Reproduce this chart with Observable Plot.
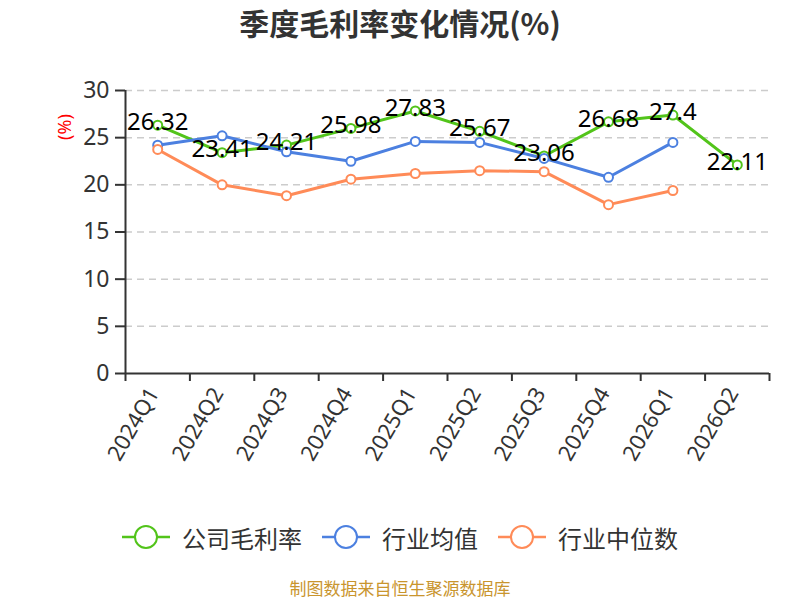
<!DOCTYPE html>
<html><head><meta charset="utf-8">
<script src="https://cdn.jsdelivr.net/npm/d3@7"></script>
<script src="https://cdn.jsdelivr.net/npm/@observablehq/plot@0.6"></script>
<style>
html,body{margin:0;background:#fff;font-family:"Noto Sans","Noto Sans CJK SC",sans-serif;}
#wrap{position:relative;width:800px;height:600px;}
#title{height:44px;line-height:44px;text-align:center;font-size:30px;font-weight:bold;color:#333;font-family:"Noto Sans CJK SC","Noto Sans",sans-serif;margin-bottom:1px;}
#ylab{position:absolute;left:50px;top:113px;width:28px;height:28px;color:#f00;font-size:18px;transform:rotate(-90deg);text-align:center;line-height:28px;}
#legend{position:absolute;top:522px;left:0;width:800px;display:flex;justify-content:center;gap:20px;font-size:24px;color:#333;font-family:"Noto Sans CJK SC",sans-serif;}
.item{display:flex;align-items:center;gap:12px;height:30px;}
#caption{position:absolute;top:576px;left:0;width:800px;height:24px;line-height:24px;text-align:center;font-size:17px;color:#c9952e;font-family:"Noto Sans CJK SC",sans-serif;}
</style></head>
<body>
<div id="wrap">
<div id="title">季度毛利率变化情况(%)</div>
<div id="chart"></div>
<div id="ylab">(%)</div>
<div id="legend"></div>
<div id="caption">制图数据来自恒生聚源数据库</div>
</div>
<script>
const quarters = ["2024Q1","2024Q2","2024Q3","2024Q4","2025Q1","2025Q2","2025Q3","2025Q4","2026Q1","2026Q2"];
const company = [26.32,23.41,24.21,25.98,27.83,25.67,23.06,26.68,27.4,22.11];
const industryAvg = [24.2,25.2,23.5,22.5,24.6,24.5,22.8,20.8,24.5,null];
const industryMedian = [23.75,20.0,18.85,20.6,21.2,21.5,21.4,17.9,19.4,null];
const yTicks = [0,5,10,15,20,25,30];
const seriesNames = ["公司毛利率","行业均值","行业中位数"];
const seriesColors = ["#52c41a","#4c80e0","#ff8b58"];

const seriesValues = [company, industryAvg, industryMedian];
const rows = [];
seriesValues.forEach((vals, s) => vals.forEach((v, i) => {
  if (v != null) rows.push({series: seriesNames[s], i, q: quarters[i], v});
}));
const companyRows = rows.filter(d => d.series === seriesNames[0]);
const idx = quarters.map((q, i) => i);
const bounds = [-0.5, ...idx.map(i => i + 0.5)];

const chart = Plot.plot({
  width: 800,
  height: 470,
  marginTop: 45,
  marginBottom: 142,
  marginLeft: 125,
  marginRight: 31,
  style: {fontFamily: '"Noto Sans", sans-serif', color: "#333", background: "#fff", fontSize: "22px"},
  x: {domain: [-0.5, quarters.length - 0.5], axis: null},
  y: {domain: [0, 30], axis: null},
  color: {domain: seriesNames, range: seriesColors},
  marks: [
    Plot.gridY(yTicks.filter(t => t > 0), {stroke: "#ccc", strokeOpacity: 1, strokeDasharray: "7,5", strokeWidth: 1.5}),
    Plot.axisY({ticks: yTicks, tickSize: 10, tickPadding: 6, fontSize: 23, tickFormat: d => d, label: null, stroke: "#333", strokeWidth: 2}),
    Plot.axisX({ticks: idx, tickSize: 0, tickPadding: 16, tickRotate: -60, fontSize: 22, tickFormat: i => quarters[i], label: null, dx: -4}),
    Plot.axisX({ticks: bounds, tickSize: 8, tickFormat: () => "", label: null, stroke: "#333", strokeWidth: 2}),
    Plot.ruleX([-0.5], {y1: 0, y2: 30, stroke: "#333", strokeWidth: 2}),
    Plot.ruleY([0], {stroke: "#333", strokeWidth: 2}),
    Plot.line(rows, {x: "i", y: "v", stroke: "series", z: "series", strokeWidth: 3}),
    Plot.dot(rows, {x: "i", y: "v", stroke: "series", fill: "#fff", r: 4.5, strokeWidth: 2}),
    Plot.text(companyRows, {x: "i", y: "v", text: d => String(d.v), dy: -3, fontSize: 24, fill: "#000"})
  ]
});
document.getElementById("chart").appendChild(chart);

const legend = document.getElementById("legend");
seriesNames.forEach((name, s) => {
  const item = document.createElement("div");
  item.className = "item";
  item.innerHTML = `<svg width="48" height="26"><line x1="0" y1="13" x2="48" y2="13" stroke="${seriesColors[s]}" stroke-width="2.5"/><circle cx="24" cy="13" r="11" fill="#fff" stroke="${seriesColors[s]}" stroke-width="2"/></svg><span>${name}</span>`;
  legend.appendChild(item);
});
</script>
</body></html>
